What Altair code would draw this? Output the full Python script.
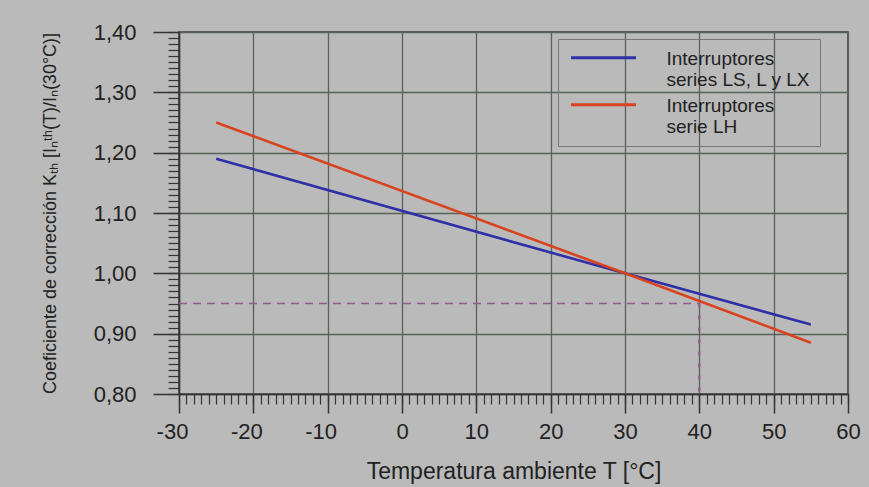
import altair as alt
import pandas as pd

# ---- data ----
temps = [-25, 30, 55]
k_ls = [1.19, 1.00, 0.915]      # Interruptores series LS, L y LX
k_lh = [1.25, 1.00, 0.885]      # Interruptores serie LH
series_names = ["Interruptores\nseries LS, L y LX", "Interruptores\nserie LH"]
series_colors = ["#2f2fa6", "#d8431f"]

guide_h_x = [-30, 40]
guide_h_y = [0.95, 0.95]
guide_v_x = [40, 40]
guide_v_y = [0.95, 0.80]

x_major = [-30, -20, -10, 0, 10, 20, 30, 40, 50, 60]
y_major = [0.80, 0.90, 1.00, 1.10, 1.20, 1.30, 1.40]
x_minor = list(range(-30, 61))
y_minor = [round(0.80 + 0.01 * i, 2) for i in range(61)]

# ---- tables ----
rows = []
for name, vals in zip(series_names, [k_ls, k_lh]):
    for t, k in zip(temps, vals):
        rows.append({"T": t, "K": k, "serie": name})
df = pd.DataFrame(rows)
df_h = pd.DataFrame({"T": guide_h_x, "K": guide_h_y})
df_v = pd.DataFrame({"T": guide_v_x, "K": guide_v_y})

FONT = "Liberation Sans"
TXT = "#222222"
AX = "#333333"

xscale = alt.Scale(domain=[-30, 60], nice=False, zero=False)
yscale = alt.Scale(domain=[0.8, 1.4], nice=False, zero=False)

x_axis = alt.Axis(
    values=x_major, orient="bottom", grid=True, gridColor="#59625a", gridWidth=1.3,
    tickSize=19, tickWidth=1.5, tickColor=AX, domainColor=AX, domainWidth=1.5,
    labelExpr="'' + datum.value",
    labelOffset={"condition": {"test": "datum.value < 0", "value": -7}, "value": 0},
    labelFont=FONT, labelFontSize=22, labelColor=TXT, labelFlush=False,
    labelPadding=8, title="Temperatura ambiente T [°C]", titleFont=FONT,
    titleFontSize=23, titleFontWeight="normal", titleColor=TXT, titlePadding=18,
)
y_axis = alt.Axis(
    values=y_major, orient="left", grid=True, gridColor="#59625a", gridWidth=1.3,
    tickSize=26, tickWidth=1.5, tickColor=AX, domainColor=AX, domainWidth=1.5,
    labelExpr="replace(format(datum.value, '.2f'), '.', ',')", labelFont=FONT,
    labelFontSize=22, labelColor=TXT, labelPadding=17, labelFlush=False,
    title="Coeficiente de corrección Kₜₕ [Iₙᵗʰ(T)/Iₙ(30°C)]", titleFont=FONT,
    titleFontSize=18, titleFontWeight="normal", titleColor=TXT, titlePadding=34,
)
x_minor_axis = alt.Axis(
    values=x_minor, orient="bottom", grid=False, tickSize=10, tickWidth=1.2,
    tickColor=AX, labels=False, domain=False, title=None,
)
y_minor_axis = alt.Axis(
    values=y_minor, orient="left", grid=False, tickSize=11, tickWidth=1.2,
    tickColor=AX, labels=False, domain=False, title=None,
)

minor = alt.Chart(df_h).mark_line(opacity=0).encode(
    x=alt.X("T:Q", scale=xscale, axis=x_minor_axis),
    y=alt.Y("K:Q", scale=yscale, axis=y_minor_axis),
)

guide_h = alt.Chart(df_h).mark_line(color="#925a8c", strokeWidth=1.6, strokeDash=[8, 6]).encode(
    x=alt.X("T:Q", scale=xscale, axis=x_axis),
    y=alt.Y("K:Q", scale=yscale, axis=y_axis),
)
guide_v = alt.Chart(df_v).mark_line(color="#925a8c", strokeWidth=2.2, strokeDash=[4, 8]).encode(
    x=alt.X("T:Q", scale=xscale, axis=None),
    y=alt.Y("K:Q", scale=yscale, axis=None),
)

lines = alt.Chart(df).mark_line(strokeWidth=2.6).encode(
    x=alt.X("T:Q", scale=xscale, axis=None),
    y=alt.Y("K:Q", scale=yscale, axis=None),
    color=alt.Color(
        "serie:N",
        scale=alt.Scale(domain=series_names, range=series_colors),
        legend=alt.Legend(
            title=None, orient="none", legendX=379, legendY=7,
            symbolType="M-2.1667,-0.453L2.1667,-0.453", symbolSize=900,
            symbolStrokeWidth=3, symbolOffset=20,
            labelExpr="split(datum.label, '\\n')", labelFont=FONT,
            labelFontSize=19, labelColor=TXT, labelOffset=46.5, labelLimit=400,
            labelBaseline="alphabetic", strokeColor="#777777", padding=9,
            rowPadding=5,
        ),
    ),
)

chart = alt.layer(minor, guide_h, guide_v, lines).resolve_axis(
    x="independent", y="independent"
).properties(
    width=669, height=362,
    autosize=alt.AutoSizeParams(type="none"),
    padding={"left": 179, "top": 32, "right": 21, "bottom": 93},
    background="#bababa",
).configure_view(
    stroke="#3c3c3c", strokeWidth=1.5,
)

chart.save("out.html", embed_options={"renderer": "svg", "actions": False})
